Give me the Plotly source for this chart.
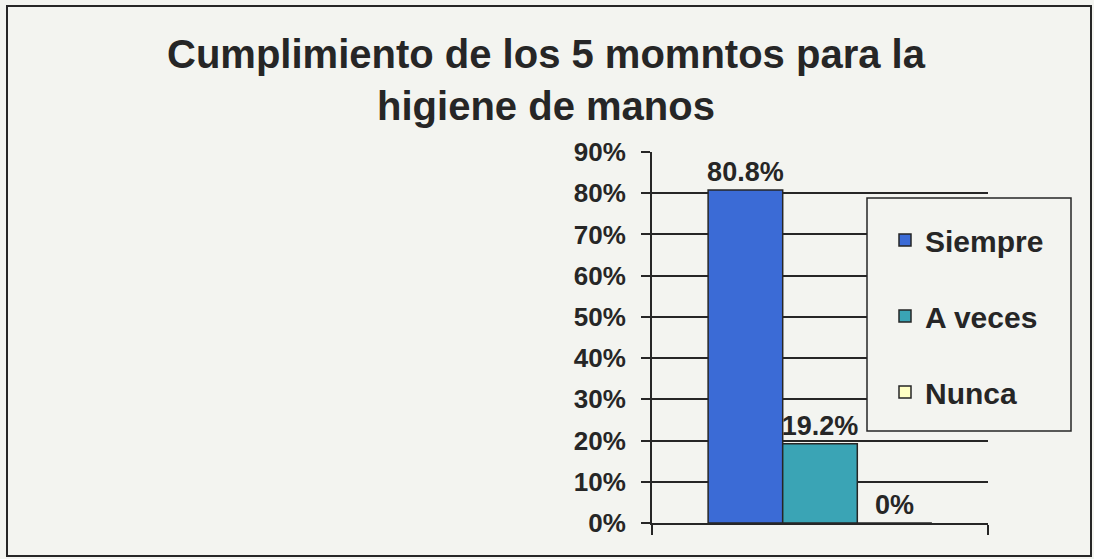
import plotly.graph_objects as go

# ---- data ----
categories = [""]
series_names = ["Siempre", "A veces", "Nunca"]
series_values = [[80.8], [19.2], [0]]
series_colors = ["#3b6bd6", "#3aa4b5", "#ffffc4"]
y_tick_vals = [0, 10, 20, 30, 40, 50, 60, 70, 80, 90]
y_tick_text = [f"{v}%" for v in y_tick_vals]
title_text = "Cumplimiento de los 5 momntos para la<br>higiene de manos"

# ---- geometry (pixels) ----
W, H = 1094, 559
L, R, T, B = 652, 106, 152, 36
PW, PH = W - L - R, H - T - B

def px_x(p):
    return (p - L) / PW

def px_y(p):
    return (H - B - p) / PH

INK = "#262626"
BG = "#f3f4f0"
FONT = "Arial, Liberation Sans, sans-serif"

fig = go.Figure()
for name, vals, col in zip(series_names, series_values, series_colors):
    fig.add_trace(go.Bar(
        x=categories, y=vals, name=name, legendgroup=name,
        marker=dict(color=col, line=dict(color=INK, width=1.5)),
        text=[f"{v:g}%" for v in vals], texttemplate="%{text}",
        textposition="outside", cliponaxis=False, constraintext="none",
        textfont=dict(family=FONT, size=27, color=INK, weight="bold"),
    ))

shapes = [
    # outer frame
    dict(type="rect", xref="paper", yref="paper",
         x0=px_x(7), x1=px_x(1091), y0=px_y(556), y1=px_y(6),
         line=dict(color=INK, width=2), fillcolor="rgba(0,0,0,0)", layer="above"),
    # legend box
    dict(type="rect", xref="paper", yref="paper",
         x0=px_x(867), x1=px_x(1071), y0=px_y(431), y1=px_y(198),
         line=dict(color=INK, width=1.5), fillcolor=BG, layer="above"),
]

fig.update_layout(
    width=W, height=H, autosize=False,
    margin=dict(l=L, r=R, t=T, b=B),
    paper_bgcolor=BG, plot_bgcolor=BG,
    font=dict(family=FONT, color=INK),
    barmode="group", bargap=0.334, bargroupgap=0,
    title=dict(text=title_text, x=546 / W, xanchor="center",
               yref="container", y=1 - 68 / H, yanchor="top",
               font=dict(family=FONT, size=40, color=INK, weight="bold")),
    showlegend=True,
    legend=dict(x=px_x(885), xanchor="left", y=px_y(214), yanchor="top",
                bgcolor="rgba(0,0,0,0)", borderwidth=0,
                tracegroupgap=34, traceorder="grouped",
                font=dict(family=FONT, size=30, color=INK, weight="bold")),
    shapes=shapes,
)

fig.update_xaxes(type="category", showticklabels=False, showline=True,
                 linecolor=INK, linewidth=2, ticks="outside", tickson="boundaries",
                 ticklen=10, tickcolor=INK, tickwidth=2, showgrid=False, zeroline=False)
fig.update_yaxes(range=[0, 90], tickmode="array", tickvals=y_tick_vals, ticktext=y_tick_text,
                 showline=True, linecolor=INK, linewidth=2,
                 ticks="outside", ticklen=9, tickcolor=INK, tickwidth=2,
                 showgrid=True, gridcolor=INK, gridwidth=1.5, zeroline=False,
                 ticklabelstandoff=10,
                 tickfont=dict(family=FONT, size=26, color=INK, weight="bold"))

fig.write_html("out.html", config={"displayModeBar": False})

# remove the default page margin so the figure sits at the window's corner
with open("out.html", encoding="utf-8") as f:
    html = f.read()
html = html.replace("<head>", "<head><style>html,body{margin:0;padding:0;overflow:hidden;}</style>", 1)
with open("out.html", "w", encoding="utf-8") as f:
    f.write(html)
